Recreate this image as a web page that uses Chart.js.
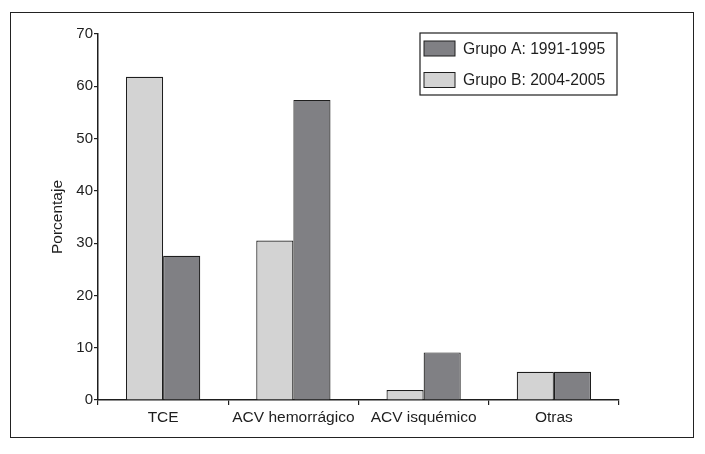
<!DOCTYPE html>
<html>
<head>
<meta charset="utf-8">
<script src="https://cdn.jsdelivr.net/npm/chart.js@4.4.1/dist/chart.umd.min.js"></script>
<style>
  html, body { margin: 0; padding: 0; background: #fff; }
  #frame {
    position: absolute; left: 10px; top: 12px;
    width: 682px; height: 424px;
    border: 1px solid #222;
  }
</style>
</head>
<body>
<div id="frame"><canvas id="chart"></canvas></div>
<script>
// data
var categories = ["TCE", "ACV hemorrágico", "ACV isquémico", "Otras"];
var grupoB = [61.8, 30.5, 1.9, 5.4];   // Grupo B: 2004-2005 (light)
var grupoA = [27.6, 57.4, 9.1, 5.4];   // Grupo A: 1991-1995 (dark)
var yTicks = [0, 10, 20, 30, 40, 50, 60, 70];

var ink = "#1e1e1e";
var font = "'Liberation Sans', Arial, Helvetica, sans-serif";

// legend drawn as a boxed panel in the top-right corner of the plot
var boxLegend = {
    id: 'boxLegend',
    afterDraw: function(chart) {
        var ctx = chart.ctx, area = chart.chartArea;
        var w = 197, h = 62;
        var x = area.right - w - 2, y = area.top - 1;
        ctx.save();
        ctx.fillStyle = "#fff";
        ctx.fillRect(x, y, w, h);
        ctx.strokeStyle = ink;
        ctx.lineWidth = 1.2;
        ctx.strokeRect(x, y, w, h);
        ctx.font = "15.7px " + font;
        ctx.textBaseline = "middle";
        var sets = chart.data.datasets.slice().reverse();
        sets.forEach(function(ds, i) {
            var cy = y + 15.5 + i * 31.5;
            ctx.fillStyle = ds.backgroundColor;
            ctx.fillRect(x + 4, cy - 7.5, 31, 15);
            ctx.strokeStyle = ink;
            ctx.lineWidth = 1;
            ctx.strokeRect(x + 4, cy - 7.5, 31, 15);
            ctx.fillStyle = ink;
            ctx.fillText(ds.label, x + 43, cy + 1);
        });
        ctx.restore();
    }
};

var ctx = document.getElementById("chart").getContext("2d");
new Chart(ctx, {
    type: 'bar',
    data: {
        labels: categories,
        datasets: [
        {
            label: 'Grupo B: 2004-2005',
            backgroundColor: "#d3d3d3",
            borderColor: ink,
            borderWidth: 1.2,
            data: grupoB
        },
        {
            label: 'Grupo A: 1991-1995',
            backgroundColor: "#808084",
            borderColor: ink,
            borderWidth: 1.2,
            data: grupoA
        }]
    },
    options: {
        responsive: true,
        maintainAspectRatio: false,
        animation: false,
        layout: { padding: { top: 21, right: 74, left: 0, bottom: 0 } },
        datasets: { bar: { categoryPercentage: 0.57, barPercentage: 1.0 } },
        plugins: {
            legend: { display: false },
            tooltip: { enabled: false }
        },
        scales: {
            x: {
                grid: {
                    offset: true,
                    drawOnChartArea: false,
                    tickLength: 5,
                    color: ink,
                    lineWidth: 1.2
                },
                border: { display: true, color: ink, width: 1.5 },
                ticks: {
                    color: ink,
                    font: { family: font, size: 15.5 },
                    padding: 3,
                    maxRotation: 0
                },
                afterFit: function(scale) { scale.height = 37; }
            },
            y: {
                min: 0,
                max: 70,
                afterBuildTicks: function(scale) {
                    scale.ticks = yTicks.map(function(v) { return { value: v }; });
                },
                grid: {
                    drawOnChartArea: false,
                    tickLength: 4,
                    color: ink,
                    lineWidth: 1.2
                },
                border: { display: true, color: ink, width: 1.5 },
                ticks: {
                    color: ink,
                    font: { family: font, size: 15 },
                    padding: 1
                },
                title: {
                    display: true,
                    text: 'Porcentaje',
                    color: ink,
                    font: { family: font, size: 15.5 },
                    padding: { top: 37, bottom: 0 }
                },
                afterFit: function(scale) { scale.width = 87; }
            }
        }
    },
    plugins: [boxLegend]
});
</script>
</body>
</html>
